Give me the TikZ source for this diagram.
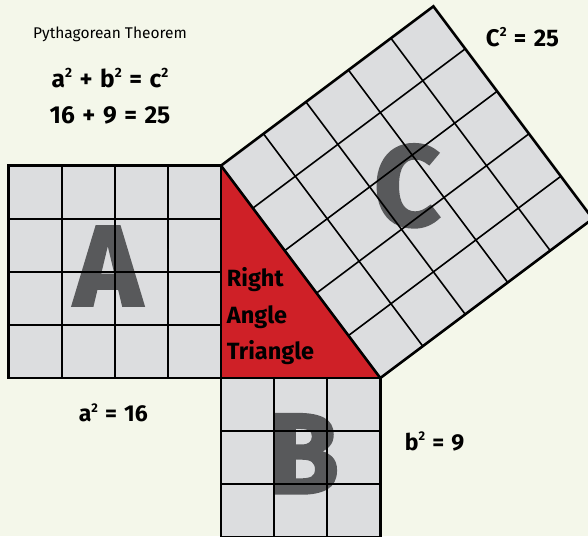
\documentclass[tikz,border=0pt]{standalone}
\usepackage{fontspec}
\setmainfont{Fira Sans}[BoldFeatures={WordSpace=1.3}]
\newfontfamily\heavyfont{Fira Sans}[BoldFeatures={FakeBold=2.5}]
\usetikzlibrary{calc}
\definecolor{paper}{HTML}{F4F7EA}
\definecolor{tile}{HTML}{DCDDDF}
\definecolor{trired}{HTML}{CF2027}
\definecolor{bigletter}{HTML}{58595B}
% small raised 2
\newcommand\sqtwo{\raisebox{0.42em}{\scalebox{0.55}{2}}}
\tikzset{
  gridline/.style={black, line width=1.6pt},
  border/.style={black, line width=2.6pt, line join=miter},
  bigl/.style={text=bigletter, font=\fontsize{114}{114}\heavyfont\bfseries, inner sep=0pt},
  eqn/.style={font=\fontsize{24.5}{28}\selectfont\bfseries, anchor=base, inner sep=0pt},
  sqlabel/.style={font=\fontsize{23}{27}\selectfont\bfseries, anchor=base, inner sep=0pt},
  trilabel/.style={font=\fontsize{23.5}{27}\selectfont\bfseries, anchor=base west, inner sep=0pt},
}

\begin{document}
\begin{tikzpicture}[x=53.1pt, y=-53.1pt]
\fill[paper] (-4.162,-7.119) rectangle (6.911,2.975);
\useasboundingbox (-4.162,-7.119) rectangle (6.911,2.975);
% corners of the triangle and of square C
\coordinate (r) at (0,0);
\coordinate (t) at (0,-4);
\coordinate (q) at (3,0);
\coordinate (tc) at (4,-7);
\coordinate (qc) at (7,-3);
% squares and triangle
\fill[tile] (-4,-4) rectangle (r);
\fill[tile] (r) rectangle (3,3);
\fill[tile] (t) -- (q) -- (qc) -- (tc) -- cycle;
\fill[trired] (t) -- (r) -- (q) -- cycle;
% big letters, under the grid
\node[bigl] (la) at (-2.128,-2.109) {A};
\node[bigl] (lb) at (1.554,1.427) {B};
\node[bigl] (lc) at (3.503,-3.62) {C};
% grids
\foreach \i in {1,2,3} {
  \draw[gridline] (-4,-\i) -- (0,-\i);
  \draw[gridline] (-\i,-4) -- (-\i,0);
}
\foreach \i in {1,2} {
  \draw[gridline] (\i,0) -- (\i,3);
  \draw[gridline] (0,\i) -- (3,\i);
}
\foreach \i in {1,...,4} {
  \draw[gridline] ($(t)!\i/5!(q)$) -- ($(tc)!\i/5!(qc)$);
  \draw[gridline] ($(t)!\i/5!(tc)$) -- ($(q)!\i/5!(qc)$);
}
% outlines
\draw[border] (-4,-4) rectangle (r);
\draw[border] (r) rectangle (3,3);
\draw[border] (t) -- (q) -- (qc) -- (tc) -- cycle;
\draw[border] (t) -- (r) -- (q);
% texts
\node[font=\fontsize{15.5}{18}\selectfont, anchor=base, inner sep=0pt] (title) at (-2.09,-6.397) {Pythagorean Theorem};
\node[eqn] (law) at (-2.09,-5.474) {a\sqtwo{} + b\sqtwo{} = c\sqtwo};
\node[eqn] (sum) at (-2.09,-4.796) {16 + 9 = 25};
\node[sqlabel, font=\fontsize{24}{28}\selectfont\bfseries] (csq) at (5.678,-6.239) {C\sqtwo{} = 25};
\node[sqlabel] (asq) at (-2.028,0.823) {a\sqtwo{} = 16};
\node[sqlabel] (bsq) at (4.021,1.356) {b\sqtwo{} = 9};
\node[trilabel] (rt1) at (0.107,-1.719) {Right};
\node[trilabel] (rt2) at (0.107,-1.036) {Angle};
\node[trilabel] (rt3) at (0.107,-0.358) {Triangle};
\end{tikzpicture}
\end{document}
